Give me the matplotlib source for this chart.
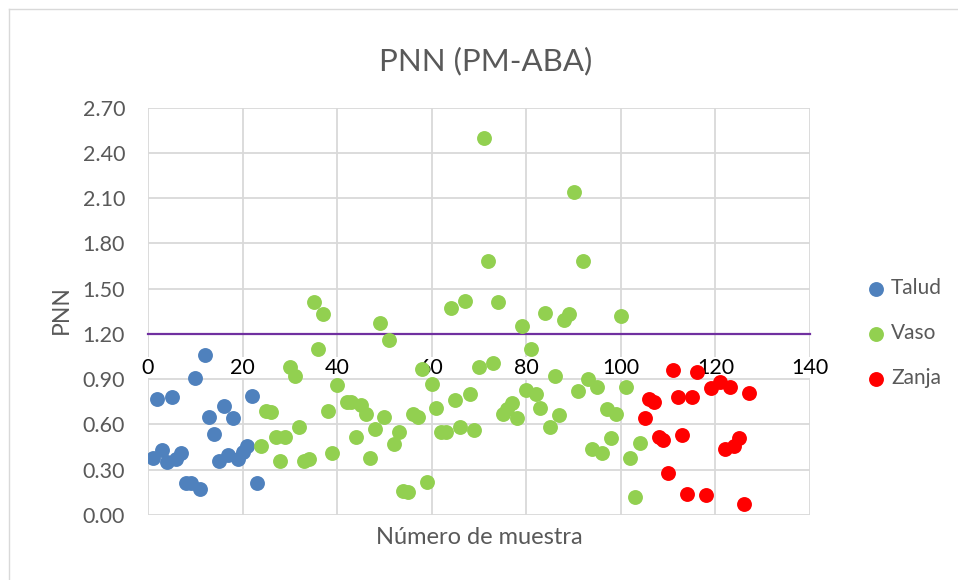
import numpy as np
import matplotlib
matplotlib.use("Agg")
import matplotlib.pyplot as plt
from matplotlib.lines import Line2D

plt.rcParams['font.family'] = ['Lato', 'DejaVu Sans']

# Talud
talud_x = list(range(1, 24))
talud_y = [0.38, 0.77, 0.43, 0.35, 0.78, 0.37, 0.41, 0.21, 0.21, 0.91,
           0.17, 1.06, 0.65, 0.54, 0.36, 0.72, 0.40, 0.64, 0.37, 0.42,
           0.46, 0.79, 0.21]

# Vaso
vaso_x = [24, 25, 26, 27, 28, 29, 30, 31, 32, 33, 34, 35, 36, 37, 38, 39, 40,
          42, 43, 44, 45, 46, 47, 48, 49, 50, 51, 52, 53, 54, 55, 56, 57, 58,
          59, 60, 61, 62, 63, 64, 65, 66, 67, 68, 69, 70, 71, 72, 73, 74, 75,
          76, 77, 78, 79, 80, 81, 82, 83, 84, 85, 86, 87, 88, 89, 90, 91, 92,
          93, 94, 95, 96, 97, 98, 99, 100, 101, 102, 103, 104]
vaso_y = [0.46, 0.69, 0.68, 0.52, 0.36, 0.52, 0.98, 0.92, 0.58, 0.36, 0.37,
          1.41, 1.10, 1.33, 0.69, 0.41, 0.86,
          0.75, 0.75, 0.52, 0.73, 0.67, 0.38, 0.57, 1.27, 0.65, 1.16, 0.47,
          0.55, 0.16, 0.15, 0.67, 0.65, 0.97,
          0.22, 0.87, 0.71, 0.55, 0.55, 1.37, 0.76, 0.58, 1.42, 0.80, 0.56,
          0.98, 2.50, 1.68, 1.01, 1.41, 0.67,
          0.70, 0.74, 0.64, 1.25, 0.83, 1.10, 0.80, 0.71, 1.34, 0.58, 0.92,
          0.66, 1.29, 1.33, 2.14, 0.82, 1.68,
          0.90, 0.44, 0.85, 0.41, 0.70, 0.51, 0.67, 1.32, 0.85, 0.38, 0.12,
          0.48]

# Zanja
zanja_x = [105, 106, 107, 108, 109, 110, 111, 112, 113, 114, 115, 116, 118,
           119, 121, 122, 123, 124, 125, 126, 127]
zanja_y = [0.64, 0.77, 0.75, 0.52, 0.50, 0.28, 0.96, 0.78, 0.53, 0.14, 0.78,
           0.95, 0.13, 0.84, 0.88, 0.44, 0.85, 0.46, 0.51, 0.07, 0.81]

x_ticks = [0, 20, 40, 60, 80, 100, 120, 140]
y_ticks = [0.0, 0.3, 0.6, 0.9, 1.2, 1.5, 1.8, 2.1, 2.4, 2.7]
axis_cross = 1.2

W, H = 958, 580
fig = plt.figure(figsize=(W / 100, H / 100), dpi=100)
ax = fig.add_axes([148 / W, 1 - 515 / H, 662 / W, 407.5 / H])

txt = '#595959'
grid = '#D9D9D9'
ms = 115

ax.scatter(talud_x, talud_y, s=ms, color='#4F81BD', label='Talud', zorder=3, linewidths=0)
ax.scatter(vaso_x, vaso_y, s=ms, color='#92D050', label='Vaso', zorder=3, linewidths=0)
ax.scatter(zanja_x, zanja_y, s=ms, color='#FF0000', label='Zanja', zorder=3, linewidths=0)

ax.set_xlim(0, 140)
ax.set_ylim(0, 2.7)
ax.set_xticks(x_ticks)
ax.set_yticks(y_ticks)
ax.set_yticklabels([f'{v:.2f}' for v in y_ticks])
ax.grid(True, color=grid, linewidth=1.3)
ax.set_axisbelow(True)

for s in ['top', 'right', 'left']:
    ax.spines[s].set_visible(False)
ax.spines['bottom'].set_position(('data', axis_cross))
ax.spines['bottom'].set_color('#7030A0')
ax.spines['bottom'].set_linewidth(1.6)
ax.spines['bottom'].set_zorder(2.5)

ax.tick_params(axis='both', length=0, labelsize=15.5, labelcolor=txt)
ax.tick_params(axis='x', pad=17, labelcolor='black')
ax.tick_params(axis='y', pad=16.5)
for lab in ax.get_xticklabels():
    lab.set_bbox(dict(facecolor='white', edgecolor='none', pad=0.5))
    lab.set_zorder(5)

fig.text(0.5065, 1 - 61 / H, 'PNN (PM-ABA)', ha='center', va='center',
         fontsize=22.5, color=txt)
fig.text(479 / W, 1 - 537 / H, 'Número de muestra', ha='center', va='center',
         fontsize=17, color=txt)
fig.text(61 / W, 1 - 310 / H, 'PNN', ha='center', va='center', rotation=90,
         fontsize=16.5, color=txt)

leg = fig.legend(loc='upper left', bbox_to_anchor=(866 / W, 1 - 278 / H),
                 frameon=False, fontsize=15, labelspacing=1.2,
                 handlelength=1.0, handletextpad=0.2, borderpad=0,
                 borderaxespad=0, markerscale=1.0)
for t in leg.get_texts():
    t.set_color(txt)

fig.add_artist(Line2D([9 / W, 9 / W], [0, 1 - 9 / H], color=grid, linewidth=1))
fig.add_artist(Line2D([9 / W, 1], [1 - 9 / H, 1 - 9 / H], color=grid, linewidth=1))

fig.savefig('out.png', dpi=100)
